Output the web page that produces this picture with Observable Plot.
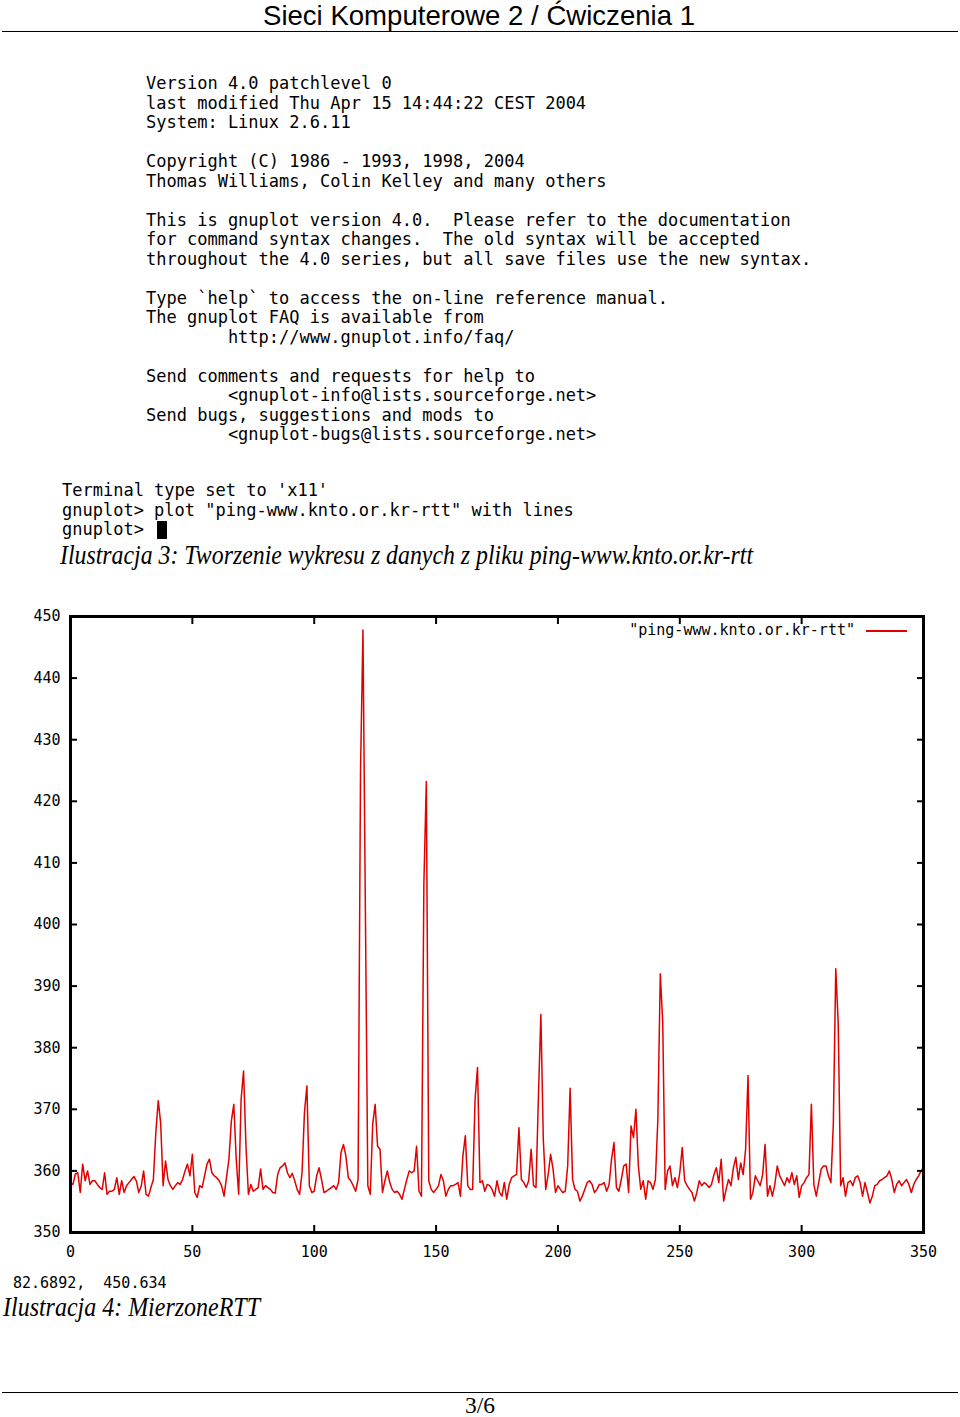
<!DOCTYPE html>
<html><head><meta charset="utf-8">
<script src="https://cdn.jsdelivr.net/npm/d3@7"></script>
<script src="https://cdn.jsdelivr.net/npm/@observablehq/plot@0.6"></script>
<style>
html,body{margin:0;padding:0;background:#fff;}
#page{position:relative;width:960px;height:1417px;overflow:hidden;background:#fff;}
.abs{position:absolute;white-space:pre;margin:0;}
.mono{font-family:"DejaVu Sans Mono",monospace;color:#000;}
.term{font-size:17px;line-height:19.5px;}
.sans{font-family:"Liberation Sans",Arial,sans-serif;color:#000;}
.serif{font-family:"Liberation Serif","Times New Roman",serif;color:#000;}
.fit{transform-origin:0 0;}
.rule{position:absolute;background:#000;height:1.5px;}
#chart{position:absolute;left:0;top:590px;}
</style></head>
<body><div id="page">
<div class="abs sans fit" id="hdr" data-w="432" data-cx="479" style="top:2px;font-size:28px;line-height:28px;"></div>
<div class="rule" style="left:2px;width:956px;top:30.5px;"></div>
<pre class="abs mono term" id="banner" style="left:146px;top:74px;"></pre>
<pre class="abs mono term" id="session" style="left:62px;top:481px;"></pre>
<div class="abs" id="cursor" style="left:157px;top:521px;width:10px;height:18px;background:#000;"></div>
<div class="abs serif fit" id="cap3" data-w="693" style="left:60px;top:542px;font-size:27px;line-height:27px;font-style:italic;"></div>
<div id="chart"></div>
<div class="abs mono" id="legend" style="right:105px;top:623px;font-size:15px;line-height:15px;"></div>
<div class="abs" id="legline" style="left:866px;top:630px;width:41px;height:2px;background:#e00000;"></div>
<div class="abs mono" id="coords" style="left:13px;top:1276px;font-size:15px;line-height:15px;"></div>
<div class="abs serif fit" id="cap4" data-w="257" style="left:3px;top:1294px;font-size:27px;line-height:27px;font-style:italic;"></div>
<div class="rule" style="left:2px;width:956px;top:1391.5px;"></div>
<div class="abs serif fit" id="folio" data-w="30" data-cx="480" style="top:1393px;font-size:24px;line-height:24px;"></div>
</div>
<script>
// ---- texts ----
const headerText = "Sieci Komputerowe 2 / Ćwiczenia 1";
const bannerLines = [
  "Version 4.0 patchlevel 0",
  "last modified Thu Apr 15 14:44:22 CEST 2004",
  "System: Linux 2.6.11",
  "",
  "Copyright (C) 1986 - 1993, 1998, 2004",
  "Thomas Williams, Colin Kelley and many others",
  "",
  "This is gnuplot version 4.0.  Please refer to the documentation",
  "for command syntax changes.  The old syntax will be accepted",
  "throughout the 4.0 series, but all save files use the new syntax.",
  "",
  "Type `help` to access the on-line reference manual.",
  "The gnuplot FAQ is available from",
  "        http://www.gnuplot.info/faq/",
  "",
  "Send comments and requests for help to",
  "        <gnuplot-info@lists.sourceforge.net>",
  "Send bugs, suggestions and mods to",
  "        <gnuplot-bugs@lists.sourceforge.net>"
];
const sessionLines = [
  "Terminal type set to 'x11'",
  "gnuplot> plot \"ping-www.knto.or.kr-rtt\" with lines",
  "gnuplot> "
];
const caption3 = "Ilustracja 3: Tworzenie wykresu z danych z pliku ping-www.knto.or.kr-rtt";
const caption4 = "Ilustracja 4: MierzoneRTT";
const seriesName = "\"ping-www.knto.or.kr-rtt\"";
const pointerCoords = "82.6892,  450.634";
const folioText = "3/6";

// ---- chart data ----
const xTicks = [0, 50, 100, 150, 200, 250, 300, 350];
const yTicks = [350, 360, 370, 380, 390, 400, 410, 420, 430, 440, 450];
const rtt = [
358.0,357.8,359.5,359.7,356.5,361.1,358.4,360.0,357.8,358.4,358.4,
357.8,357.3,357.0,359.7,356.2,356.7,356.7,357.0,358.9,356.2,
358.4,356.5,357.6,358.1,358.6,359.1,358.4,356.5,357.5,360.0,
356.2,355.9,357.3,358.6,366.2,371.4,367.8,357.6,361.6,358.6,
357.6,357.0,357.6,358.1,357.8,358.6,360.0,361.1,359.2,362.7,
356.5,355.7,357.6,357.3,359.2,361.1,361.9,359.7,359.2,358.9,
358.4,357.6,355.9,358.9,361.9,368.1,370.8,361.9,356.2,371.6,
376.2,364.0,356.2,357.8,356.7,357.0,357.3,360.3,357.0,357.6,
357.3,357.0,356.5,356.4,359.4,360.5,360.8,361.3,359.7,358.9,
359.6,358.4,357.0,356.2,359.7,369.5,373.8,357.6,356.5,356.7,
359.2,360.5,358.6,356.5,356.7,357.0,357.3,357.6,357.0,358.1,
363.0,364.3,362.4,358.9,358.4,357.6,356.7,358.6,424.8,447.8,
402.1,357.6,356.2,367.6,370.8,364.0,363.5,356.5,358.4,360.0,
358.1,357.0,356.5,356.7,356.2,355.4,357.0,358.6,360.0,359.7,
360.0,364.0,356.7,355.9,406.7,423.2,358.4,357.0,356.5,357.0,
357.6,359.4,358.4,355.9,357.0,357.6,357.6,357.8,358.1,355.9,
362.4,365.7,357.6,357.0,357.0,371.6,376.8,358.1,358.4,356.7,
357.8,357.6,357.0,355.9,358.4,356.5,355.9,358.1,355.4,357.8,
358.9,359.2,359.4,367.0,358.6,358.1,357.3,358.4,363.5,357.6,
357.3,372.2,385.4,365.1,357.0,359.4,362.7,360.3,356.5,357.6,
357.0,356.5,356.7,360.8,373.4,358.6,357.0,356.7,355.1,355.9,
357.0,358.1,358.4,357.8,356.5,357.0,357.8,357.8,358.1,356.7,
357.8,361.9,364.6,357.3,356.7,358.6,360.8,361.1,356.5,367.3,
365.4,370.0,360.8,357.0,358.4,355.4,358.4,358.1,357.0,358.6,
368.4,392.0,384.1,357.0,360.0,360.8,357.6,358.9,357.3,359.7,
363.8,358.4,357.6,357.0,356.5,355.1,356.5,358.4,357.6,358.1,
357.8,357.3,357.8,359.4,360.5,358.1,361.9,355.1,357.0,358.6,
357.6,360.5,362.2,358.6,361.3,359.4,363.5,375.5,355.4,356.5,
359.2,358.4,357.6,359.4,364.3,355.9,357.6,355.9,357.8,360.8,
359.2,358.4,357.6,358.9,358.1,359.7,357.8,359.2,355.7,357.6,
358.1,358.9,359.4,370.8,357.8,355.9,358.1,360.3,360.8,360.8,
359.2,358.1,367.6,392.8,384.0,357.6,358.9,355.9,358.1,358.4,
357.6,358.9,359.2,358.1,355.9,358.1,356.5,354.8,355.9,357.6,
357.8,358.4,358.6,358.9,359.2,360.0,358.6,356.5,357.8,358.4,
357.6,358.1,358.6,357.8,356.5,357.8,358.6,359.2,360.0,360.5
];

const points = rtt.map((v, i) => ({sample: i, rtt: v}));

const chart = Plot.plot({
  width: 960, height: 690,
  marginLeft: 70, marginRight: 37, marginTop: 26, marginBottom: 48,
  x: {domain: [0, 350]},
  y: {domain: [350, 450]},
  style: {fontFamily: "'DejaVu Sans Mono', monospace", fontSize: "15px", color: "#000", background: "transparent", overflow: "visible"},
  marks: [
    Plot.lineY(points, {x: "sample", y: "rtt", stroke: "#e00000", strokeWidth: 1.5}),
    Plot.axisX(xTicks, {anchor: "bottom", tickSize: -7, tickPadding: 21, strokeWidth: 2, label: null, tickFormat: d => String(d)}),
    Plot.axisX(xTicks, {anchor: "top", tickSize: -7, strokeWidth: 2, label: null, tickFormat: () => ""}),
    Plot.axisY(yTicks, {anchor: "left", tickSize: -7, tickPadding: 17, strokeWidth: 2, label: null, tickFormat: d => String(d)}),
    Plot.axisY(yTicks, {anchor: "right", tickSize: -7, strokeWidth: 2, label: null, tickFormat: () => ""}),
    Plot.frame({stroke: "#000", strokeWidth: 3})
  ]
});
document.getElementById("chart").appendChild(chart);

document.getElementById("hdr").textContent = headerText;
document.getElementById("banner").textContent = bannerLines.join("\n");
document.getElementById("session").textContent = sessionLines.join("\n");
document.getElementById("cap3").textContent = caption3;
document.getElementById("cap4").textContent = caption4;
document.getElementById("legend").textContent = seriesName;
document.getElementById("coords").textContent = pointerCoords;
document.getElementById("folio").textContent = folioText;

document.querySelectorAll(".fit").forEach(el => {
  const w = +el.dataset.w;
  const actual = el.getBoundingClientRect().width;
  const s = w / actual;
  el.style.transform = `scaleX(${s})`;
  if (el.dataset.cx) el.style.left = (+el.dataset.cx - w / 2) + "px";
});
</script>
</body></html>
